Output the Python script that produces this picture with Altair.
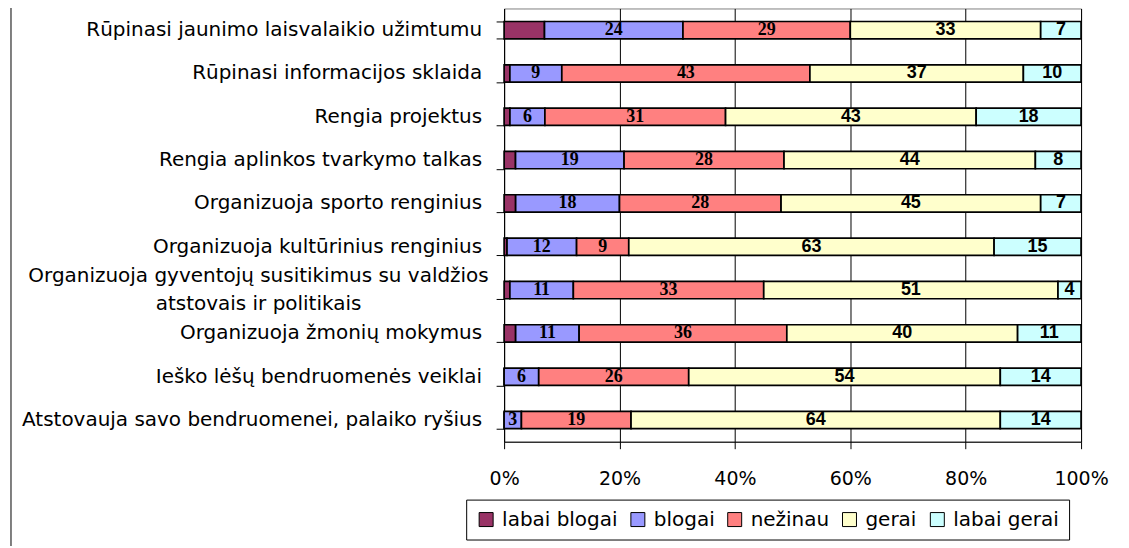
import altair as alt
import pandas as pd

categories = [
    "Rūpinasi jaunimo laisvalaikio užimtumu",
    "Rūpinasi informacijos sklaida",
    "Rengia projektus",
    "Rengia aplinkos tvarkymo talkas",
    "Organizuoja sporto renginius",
    "Organizuoja kultūrinius renginius",
    "Organizuoja gyventojų susitikimus su valdžios\natstovais ir politikais",
    "Organizuoja žmonių mokymus",
    "Ieško lėšų bendruomenės veiklai",
    "Atstovauja savo bendruomenei, palaiko ryšius",
]
series = ["labai blogai", "blogai", "nežinau", "gerai", "labai gerai"]
colors = ["#993366", "#9999FF", "#FF8080", "#FFFFCC", "#CCFFFF"]

labai_blogai = [7, 1, 1, 2, 2, 0.5, 1, 2, 0, 0]
blogai = [24, 9, 6, 19, 18, 12, 11, 11, 6, 3]
nezinau = [29, 43, 31, 28, 28, 9, 33, 36, 26, 19]
gerai = [33, 37, 43, 44, 45, 63, 51, 40, 54, 64]
labai_gerai = [7, 10, 18, 8, 7, 15, 4, 11, 14, 14]

values = [labai_blogai, blogai, nezinau, gerai, labai_gerai]
rows = []
for si, (s, vals) in enumerate(zip(series, values)):
    for c, v in zip(categories, vals):
        rows.append({"cat": c, "series": s, "order": si, "value": v})
df = pd.DataFrame(rows)

FONT = "DejaVu Sans"

y_enc = alt.Y(
    "cat:N",
    sort=categories,
    scale=alt.Scale(paddingInner=0.6, paddingOuter=0.3),
    axis=alt.Axis(
        title=None,
        labels=False,
        tickBand="extent",
        tickSize=8,
        tickColor="black",
        domainColor="black",
        grid=False,
    ),
)

base = alt.Chart(df).transform_stack(
    stack="value",
    groupby=["cat"],
    sort=[alt.SortField("order")],
    as_=["x0", "x1"],
    offset="normalize",
).transform_calculate(mid="(datum.x0 + datum.x1) / 2")

bars = base.mark_bar(stroke="black", strokeWidth=1.7).encode(
    x=alt.X(
        "x0:Q",
        scale=alt.Scale(domain=[0, 1]),
        axis=alt.Axis(
            values=[0, 0.2, 0.4, 0.6, 0.8, 1],
            format="%",
            grid=True,
            gridColor="black",
            gridWidth=1,
            gridOpacity=1,
            domainColor="black",
            tickColor="black",
            tickSize=7,
            labelFont=FONT,
            labelFontSize=19,
            labelColor="black",
            labelPadding=21,
            labelFlush=False,
            title=None,
        ),
    ),
    x2="x1:Q",
    y=y_enc,
    color=alt.Color(
        "series:N",
        sort=series,
        scale=alt.Scale(domain=series, range=colors),
        legend=alt.Legend(
            title=None,
            orient="none",
            legendX=-38,
            legendY=492,
            direction="horizontal",
            symbolType="square",
            symbolSize=196,
            symbolStrokeColor="black",
            symbolStrokeWidth=1,
            symbolOpacity=1,
            labelFont=FONT,
            labelFontSize=20,
            labelColor="black",
            labelOffset=6,
            columnPadding=10,
            strokeColor="black",
            fillColor="white",
            padding=10,
        ),
    ),
    order=alt.Order("order:Q"),
)

serif_text = base.transform_filter(
    "(datum.series == 'blogai' || datum.series == 'nežinau') && datum.value > 0"
).mark_text(
    font="Liberation Serif", fontSize=18, fontWeight="bold", color="black", baseline="middle"
).encode(
    x=alt.X("mid:Q"),
    y=y_enc,
    text=alt.Text("value:Q", format=".0f"),
)

sans_text = base.transform_filter(
    "(datum.series == 'gerai' || datum.series == 'labai gerai') && datum.value > 0"
).mark_text(
    font="Liberation Sans", fontSize=18, fontWeight="bold", color="black", baseline="middle"
).encode(
    x=alt.X("mid:Q"),
    y=y_enc,
    text=alt.Text("value:Q", format=".0f"),
)

# category labels (drawn as text so that the two-line label can be centred like the original)
cat_base = alt.Chart(df).transform_filter("datum.order == 0").transform_calculate(
    lines="split(datum.cat, '\\n')"
)
cat_single = cat_base.transform_filter("indexof(datum.cat, '\\n') < 0").mark_text(
    font=FONT, fontSize=20, color="black", align="right", baseline="middle"
).encode(
    x=alt.value(-22),
    y=y_enc,
    text="cat:N",
)
cat_multi = cat_base.transform_filter("indexof(datum.cat, '\\n') >= 0").mark_text(
    font=FONT, fontSize=20, color="black", align="center", baseline="line-bottom", lineHeight=28
).encode(
    x=alt.value(-246),
    y=y_enc,
    text="lines:N",
)

frame_df = pd.DataFrame({"k": [0]})
frame_left = alt.Chart(frame_df).mark_rule(color="black", strokeWidth=1).encode(
    x=alt.value(-494), y=alt.value(-1), y2=alt.value(545)
)
frame_top = alt.Chart(frame_df).mark_rule(color="black", strokeWidth=1).encode(
    x=alt.value(-494), x2=alt.value(640), y=alt.value(-1)
)

chart = alt.layer(
    bars, serif_text, sans_text, cat_single, cat_multi, frame_left, frame_top
).properties(
    width=578,
    height=434,
    autosize=alt.AutoSizeParams(type="none"),
    padding={"left": 497, "top": 0, "right": 40, "bottom": 104},
).configure_view(stroke="#808080", strokeWidth=1)

chart.save("out.html", embed_options={"renderer": "svg", "actions": False})
